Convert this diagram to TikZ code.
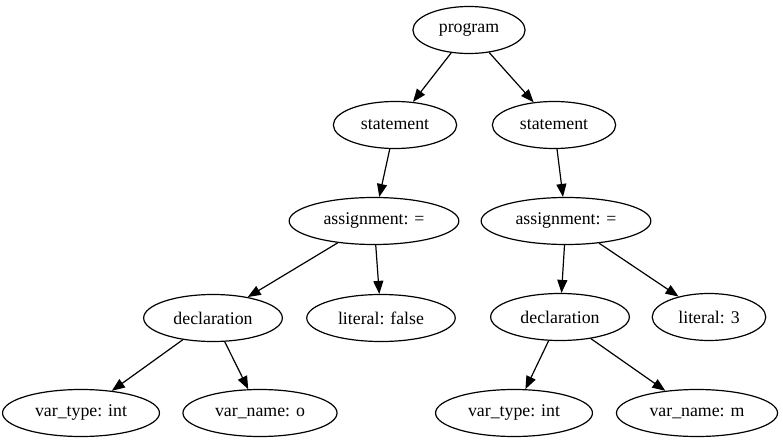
\documentclass[tikz,border=0pt]{standalone}
\usepackage{fontspec}
\setmainfont{Liberation Serif}
\usetikzlibrary{arrows.meta,shapes.geometric}

\begin{document}
\begin{tikzpicture}[x=1pt,y=-1pt]
\tikzset{
  treenode/.style={ellipse,draw=black,line width=1.2pt,minimum height=47pt,inner xsep=9.5pt,inner ysep=2pt,font=\fontsize{17.8}{20}\selectfont},
  treeedge/.style={draw=black,line width=1.2pt,-{Triangle[length=13pt,width=10pt]}}
}
\useasboundingbox (0,0) rectangle (783,443);
\node[treenode] (n_prog) at (469,30) {program};
\node[treenode] (n_stmtA) at (395,125) {statement};
\node[treenode] (n_stmtB) at (554,125) {statement};
\node[treenode] (n_assignA) at (374,221) {assignment: =};
\node[treenode] (n_assignB) at (566,221) {assignment: =};
\node[treenode] (n_declA) at (213,318) {declaration};
\node[treenode] (n_litA) at (381,318) {literal: false};
\node[treenode] (n_declB) at (560,317) {declaration};
\node[treenode] (n_litB) at (709,317) {literal: 3};
\node[treenode] (n_typeA) at (81,413) {var\_type: int};
\node[treenode] (n_nameA) at (260,413) {var\_name: o};
\node[treenode] (n_typeB) at (514,413) {var\_type: int};
\node[treenode] (n_nameB) at (697,413) {var\_name: m};
\draw[treeedge] (n_prog) -- (n_stmtA);
\draw[treeedge] (n_prog) -- (n_stmtB);
\draw[treeedge] (n_stmtA) -- (n_assignA);
\draw[treeedge] (n_stmtB) -- (n_assignB);
\draw[treeedge] (n_assignA) -- (n_declA);
\draw[treeedge] (n_assignA) -- (n_litA);
\draw[treeedge] (n_assignB) -- (n_declB);
\draw[treeedge] (n_assignB) -- (n_litB);
\draw[treeedge] (n_declA) -- (n_typeA);
\draw[treeedge] (n_declA) -- (n_nameA);
\draw[treeedge] (n_declB) -- (n_typeB);
\draw[treeedge] (n_declB) -- (n_nameB);
\end{tikzpicture}
\end{document}
